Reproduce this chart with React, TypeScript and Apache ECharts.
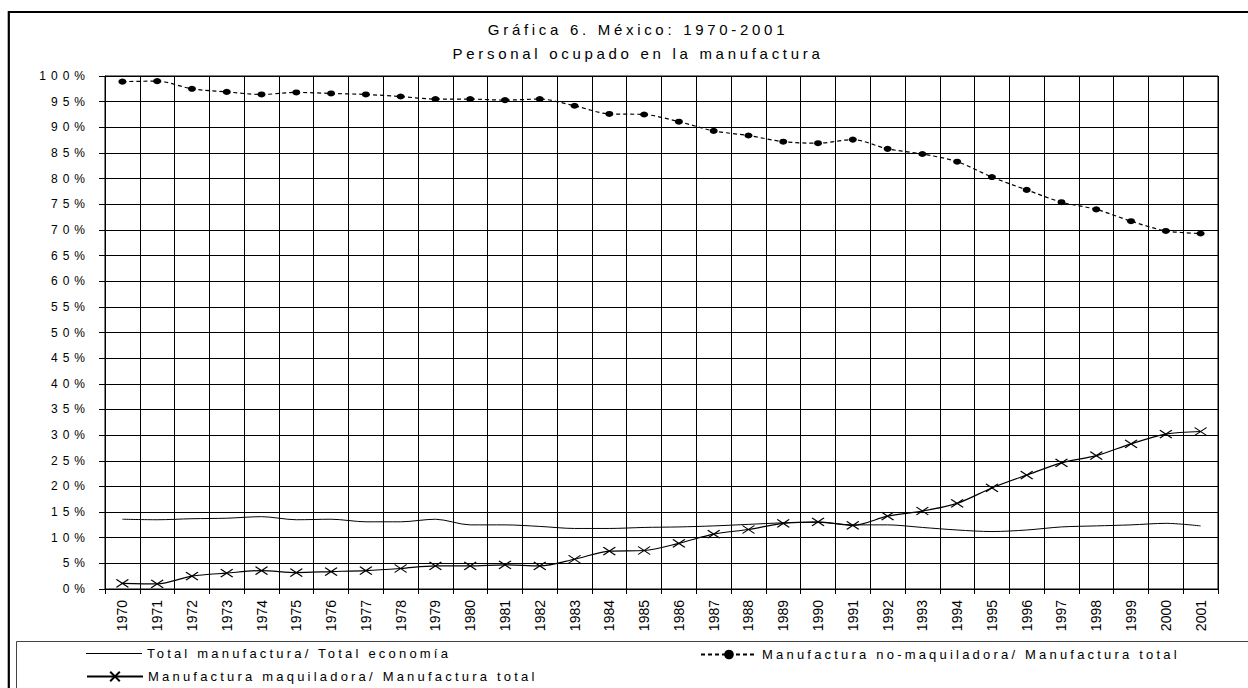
import React, { useEffect, useRef } from "react";
import * as echarts from "echarts";

const years = [
  "1970", "1971", "1972", "1973", "1974", "1975", "1976", "1977", "1978", "1979",
  "1980", "1981", "1982", "1983", "1984", "1985", "1986", "1987", "1988", "1989",
  "1990", "1991", "1992", "1993", "1994", "1995", "1996", "1997", "1998", "1999",
  "2000", "2001",
];

// Total manufactura / Total economía (%)
const totalManufEconomia = [
  13.6, 13.5, 13.7, 13.8, 14.1, 13.5, 13.6, 13.1, 13.1, 13.6,
  12.5, 12.5, 12.2, 11.8, 11.8, 12.0, 12.1, 12.3, 12.6, 12.9,
  13.0, 12.5, 12.5, 12.0, 11.5, 11.2, 11.5, 12.1, 12.3, 12.5,
  12.8, 12.3,
];

// Manufactura no-maquiladora / Manufactura total (%)
const noMaquiladora = [
  98.9, 99.0, 97.5, 96.9, 96.4, 96.8, 96.6, 96.4, 96.0, 95.5,
  95.5, 95.3, 95.5, 94.2, 92.6, 92.5, 91.1, 89.3, 88.4, 87.2,
  86.9, 87.6, 85.8, 84.8, 83.3, 80.3, 77.8, 75.4, 74.0, 71.7,
  69.8, 69.3,
];

// Manufactura maquiladora / Manufactura total (%)
const maquiladora = [
  1.1, 1.0, 2.5, 3.1, 3.6, 3.2, 3.4, 3.6, 4.0, 4.5,
  4.5, 4.7, 4.5, 5.8, 7.4, 7.5, 8.9, 10.7, 11.6, 12.8,
  13.1, 12.4, 14.2, 15.2, 16.7, 19.7, 22.2, 24.6, 26.0, 28.3,
  30.2, 30.7,
];

const titleLines = ["Gráfica 6. México: 1970-2001", "Personal ocupado en la manufactura"];
const seriesNames = [
  "Total manufactura/ Total economía",
  "Manufactura no-maquiladora/ Manufactura total",
  "Manufactura maquiladora/ Manufactura total",
];

const BASE = "'Liberation Sans', Arial, Helvetica, sans-serif";
const F_TITLE = "TitleSp, " + BASE;
const F_AXIS = "AxisSp, " + BASE;
const F_LEG = "LegSp, " + BASE;

const css = `
#chartbox [style*="TitleSp"], #chartbox [font-family*="TitleSp"] { letter-spacing: 3.7px; }
#chartbox [style*="AxisSp"], #chartbox [font-family*="AxisSp"] { letter-spacing: 5px; }
#chartbox [style*="LegSp"], #chartbox [font-family*="LegSp"] { letter-spacing: 3.2px; }
`;

export default function App() {
  const ref = useRef<HTMLDivElement | null>(null);

  useEffect(() => {
    if (!ref.current) return;
    const chart = echarts.init(ref.current, null, { renderer: "svg" });
    const black = "#000";
    const legendCommon = {
      orient: "horizontal",
      selectedMode: false,
      itemWidth: 56,
      itemHeight: 12,
      itemGap: 0,
      padding: 0,
      textStyle: { color: black, fontSize: 13, fontFamily: F_LEG },
    };
    chart.setOption({
      animation: false,
      backgroundColor: "#fff",
      graphic: [
        {
          type: "polyline",
          shape: { points: [[8.8, 900], [8.8, 12], [1400, 12]] },
          style: { fill: "none", stroke: black, lineWidth: 2.2 },
          silent: true,
        },
        {
          type: "polyline",
          shape: { points: [[16.5, 900], [16.5, 641.5], [1400, 641.5]] },
          style: { fill: "none", stroke: "#444", lineWidth: 1 },
          silent: true,
        },
        {
          type: "text",
          x: 638,
          y: 29,
          style: {
            text: titleLines[0],
            fill: black,
            fontSize: 15,
            fontFamily: F_TITLE,
            align: "center",
            verticalAlign: "middle",
          },
          silent: true,
        },
        {
          type: "text",
          x: 638,
          y: 53,
          style: {
            text: titleLines[1],
            fill: black,
            fontSize: 15,
            fontFamily: F_TITLE,
            align: "center",
            verticalAlign: "middle",
          },
          silent: true,
        },
      ],
      legend: [
        {
          ...legendCommon,
          data: [{ name: seriesNames[0], icon: "rect" }],
          itemHeight: 1,
          left: 86,
          top: 647,
        },
        { ...legendCommon, data: [seriesNames[2]], left: 86, top: 670 },
        { ...legendCommon, data: [seriesNames[1]], left: 700, top: 648 },
      ],
      grid: {
        left: 105,
        top: 76,
        width: 1113,
        height: 513,
        show: true,
        backgroundColor: "#fff",
        borderColor: black,
        borderWidth: 1,
        containLabel: false,
        outerBoundsMode: "none",
      },
      xAxis: {
        type: "category",
        data: years,
        boundaryGap: true,
        axisLine: { show: true, lineStyle: { color: black, width: 1 } },
        axisTick: { show: true, interval: 0, length: 5, lineStyle: { color: black } },
        axisLabel: {
          interval: 0,
          rotate: 90,
          margin: 11,
          color: black,
          fontSize: 14,
          fontFamily: BASE,
        },
        splitLine: { show: true, interval: 0, lineStyle: { color: black, width: 1 } },
      },
      yAxis: {
        type: "value",
        min: 0,
        max: 100,
        interval: 5,
        axisLine: { show: true, lineStyle: { color: black, width: 1 } },
        axisTick: { show: true, length: 6, lineStyle: { color: black } },
        axisLabel: {
          formatter: "{value}%",
          margin: 15,
          color: black,
          fontSize: 12,
          fontFamily: F_AXIS,
        },
        splitLine: { show: true, lineStyle: { color: black, width: 1 } },
      },
      series: [
        {
          name: seriesNames[0],
          type: "line",
          data: totalManufEconomia,
          smooth: 0.3,
          symbol: "none",
          lineStyle: { color: black, width: 1 },
          itemStyle: { color: black },
          z: 3,
        },
        {
          name: seriesNames[1],
          type: "line",
          data: noMaquiladora,
          smooth: 0.3,
          symbol: "circle",
          symbolSize: [8, 6],
          lineStyle: { color: black, width: 1.2, type: [4, 3] },
          itemStyle: { color: black, borderWidth: 0 },
          z: 4,
        },
        {
          name: seriesNames[2],
          type: "line",
          data: maquiladora,
          smooth: 0.3,
          symbol: "path://M0,0L12,8M12,0L0,8",
          symbolKeepAspect: false,
          symbolSize: [12, 8],
          lineStyle: { color: black, width: 1.2 },
          itemStyle: { color: black, borderColor: black, borderWidth: 1.2 },
          z: 5,
        },
      ],
    });
    return () => chart.dispose();
  }, []);

  return (
    <>
      <style>{css}</style>
      <div
        id="chartbox"
        ref={ref}
        style={{ position: "fixed", left: 0, top: 0, width: 1248, height: 688, background: "#fff" }}
      />
    </>
  );
}
